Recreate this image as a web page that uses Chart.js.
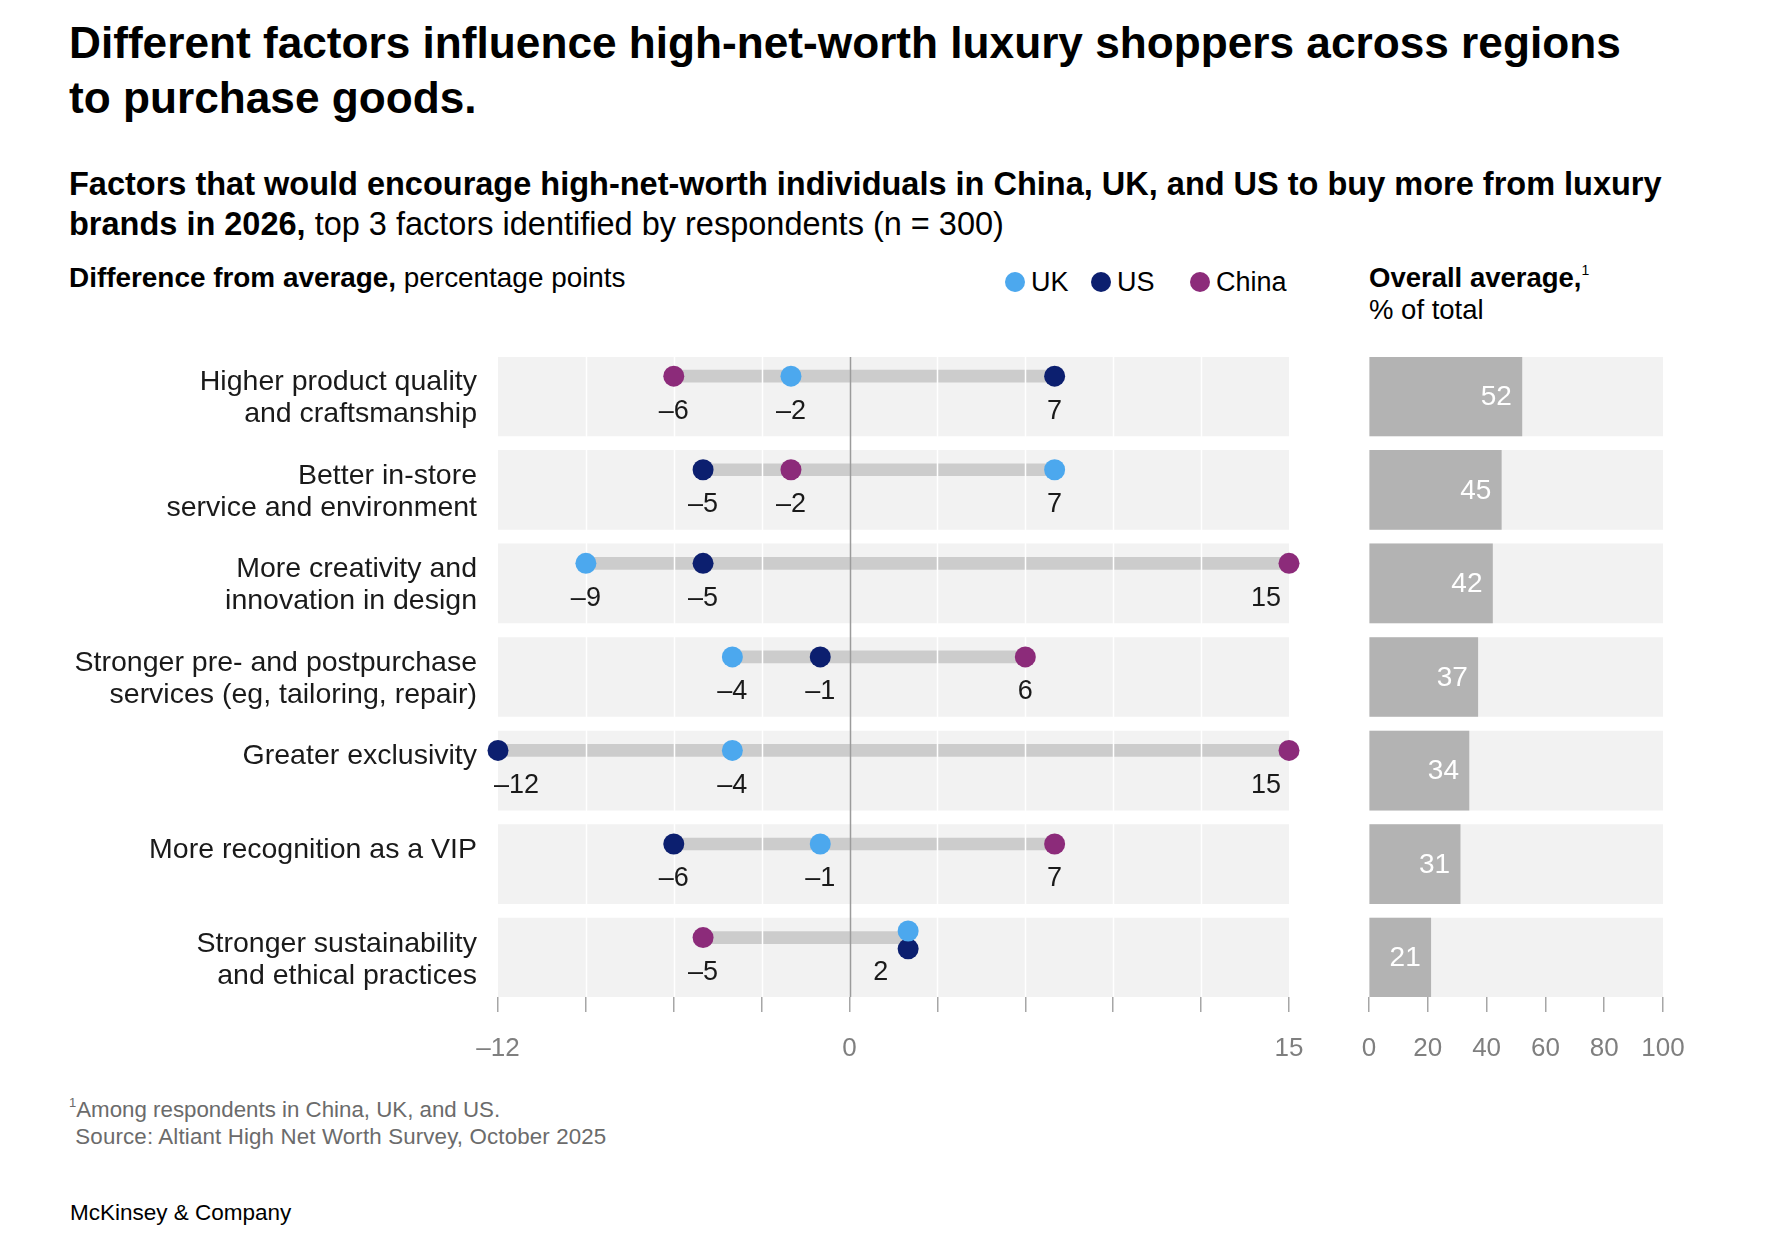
<!DOCTYPE html>
<html>
<head>
<meta charset="utf-8">
<title>Luxury shoppers factors</title>
<script src="https://cdn.jsdelivr.net/npm/chart.js@4.4.1/dist/chart.umd.min.js"></script>
<style>
    body { margin: 0; background: #fff; font-family: "Liberation Sans", Arial, sans-serif; color: #000; }
    #page { position: relative; width: 1792px; height: 1242px; overflow: hidden; }
    .abs { position: absolute; white-space: nowrap; }
    #title { left: 69px; top: 15px; font-size: 44.2px; line-height: 55px; font-weight: 700; }
    #subtitle { left: 69px; top: 164px; font-size: 32.5px; line-height: 40px; }
    #diffHead { left: 69px; top: 263px; font-size: 27.9px; line-height: 30px; }
    #avgHead { left: 1369px; top: 262px; font-size: 27.5px; line-height: 32px; }
    sup { font-size: 14px; line-height: 0; vertical-align: 0; position: relative; top: -12px; font-weight: 400; }
    .legend-item { position: absolute; top: 267px; height: 30px; font-size: 27px; line-height: 30px; }
    .legend-item .dot { position: absolute; left: -26px; top: 5px; width: 20px; height: 20px; border-radius: 50%; }
    #notes { left: 69px; top: 1096px; font-size: 22.3px; line-height: 27px; color: #6b6b6b; }
    #notes .src { letter-spacing: 0.15px; }
    #brand { left: 70px; top: 1200px; font-size: 22.5px; line-height: 26px; color: #000; }
    #dotWrap { position: absolute; left: 0; top: 330px; width: 1320px; height: 740px; }
    #barWrap { position: absolute; left: 1340px; top: 330px; width: 452px; height: 740px; }
</style>
</head>
<body>
<div id="page">
    <div id="title" class="abs">Different factors influence high-net-worth luxury shoppers across regions<br>to purchase goods.</div>
    <div id="subtitle" class="abs"><b>Factors that would encourage high-net-worth individuals in China, UK, and US to buy more from luxury<br>brands in 2026,</b> top 3 factors identified by respondents (n = 300)</div>
    <div id="diffHead" class="abs"><b>Difference from average,</b> percentage points</div>
    <div id="legend"></div>
    <div id="avgHead" class="abs"><b>Overall average,</b><sup>1</sup><br>% of total</div>
    <div id="dotWrap"><canvas id="dot-chart" width="1320" height="740"></canvas></div>
    <div id="barWrap"><canvas id="avg-chart" width="452" height="740"></canvas></div>
    <div id="notes" class="abs"><sup style="font-size:13px;top:-10px">1</sup>Among respondents in China, UK, and US.<br><span class="src">&nbsp;Source: Altiant High Net Worth Survey, October 2025</span></div>
    <div id="brand" class="abs">McKinsey &amp; Company</div>
</div>

<script>
// Chart data
const categories = [
    ['Higher product quality', 'and craftsmanship'],
    ['Better in-store', 'service and environment'],
    ['More creativity and', 'innovation in design'],
    ['Stronger pre- and postpurchase', 'services (eg, tailoring, repair)'],
    ['Greater exclusivity'],
    ['More recognition as a VIP'],
    ['Stronger sustainability', 'and ethical practices']
];
const seriesNames = ['UK', 'US', 'China'];
const ukValues = [-2, 7, -9, -4, -4, -1, 2];
const usValues = [7, -5, -5, -1, -12, -6, 2];
const chinaValues = [-6, -2, 15, 6, 15, 7, -5];
const overallAverage = [52, 45, 42, 37, 34, 31, 21];
const diffTicks = [-12, -9, -6, -3, 0, 3, 6, 9, 12, 15];
const diffTickLabels = ['–12', '', '', '', '0', '', '', '', '', '15'];
const avgTicks = [0, 20, 40, 60, 80, 100];
const avgTickLabels = ['0', '20', '40', '60', '80', '100'];

document.addEventListener('DOMContentLoaded', function() {
    const colors = ['#4ca8ee', '#0c1f6f', '#8c2b7a'];
    const seriesValues = [ukValues, usValues, chinaValues];
    const labelFont = '"Liberation Sans", Arial, sans-serif';

    // Dots sit a bit above the middle of each grey band
    const DOT_SHIFT = 0.215;
    const BAND = 79;
    const rowMin = -0.42, rowMax = 6.42;

    // HTML legend (UK, US, China)
    const legendX = [1031, 1117, 1216];
    const legend = document.getElementById('legend');
    seriesNames.forEach(function(name, k) {
        const item = document.createElement('div');
        item.className = 'legend-item';
        item.style.left = legendX[k] + 'px';
        item.innerHTML = '<span class="dot" style="background:' + colors[k] + '"></span>' + name;
        legend.appendChild(item);
    });

    // Small vertical nudge when two dots share a value on the same row
    function dodge(k, i) {
        if (ukValues[i] === usValues[i]) {
            if (k === 0) return -0.07;
            if (k === 1) return 0.12;
        }
        return 0;
    }

    function rowLabel(value) {
        const lines = categories[value];
        if (!lines) return '';
        return lines.length === 1 ? [lines[0], ''] : lines;
    }

    function fmt(v) {
        return v < 0 ? '–' + Math.abs(v) : String(v);
    }

    // Horizontal axes: no extra room for the end labels
    function noSidePadding(scale) {
        scale.height = 73;
        scale.paddingLeft = 0;
        scale.paddingRight = 0;
    }

    // Grid lines in white over bands and connectors, then the zero line
    const gridPlugin = {
        id: 'bandGrid',
        afterDatasetDraw(chart, args) {
            if (args.meta.label !== 'connectors') return;
            const ctx = chart.ctx;
            const area = chart.chartArea;
            const x = chart.scales.x;
            ctx.save();
            ctx.lineWidth = 1.5;
            ctx.strokeStyle = '#ffffff';
            diffTicks.forEach(function(v) {
                if (v === 0 || v === diffTicks[0] || v === diffTicks[diffTicks.length - 1]) return;
                const px = Math.round(x.getPixelForValue(v)) + 0.5;
                ctx.beginPath();
                ctx.moveTo(px, area.top);
                ctx.lineTo(px, area.bottom);
                ctx.stroke();
            });
            const zx = Math.round(x.getPixelForValue(0)) + 0.5;
            ctx.strokeStyle = '#9b9b9b';
            ctx.beginPath();
            ctx.moveTo(zx, area.top);
            ctx.lineTo(zx, area.bottom);
            ctx.stroke();
            ctx.restore();
        }
    };

    // Value labels under the dots
    const dotLabelPlugin = {
        id: 'dotLabels',
        afterDatasetsDraw(chart) {
            const ctx = chart.ctx;
            const area = chart.chartArea;
            const x = chart.scales.x;
            const y = chart.scales.y;
            ctx.save();
            ctx.font = '27px ' + labelFont;
            ctx.fillStyle = '#1a1a1a';
            ctx.textBaseline = 'middle';
            categories.forEach(function(c, i) {
                const seen = {};
                const counts = {};
                seriesValues.forEach(function(vals) { counts[vals[i]] = (counts[vals[i]] || 0) + 1; });
                seriesValues.forEach(function(vals) {
                    const v = vals[i];
                    if (seen[v]) return;
                    seen[v] = true;
                    const text = fmt(v);
                    const w = ctx.measureText(text).width;
                    let px = x.getPixelForValue(v);
                    const py = y.getPixelForValue(i - DOT_SHIFT) + 35;
                    if (counts[v] > 1) {
                        ctx.textAlign = 'right';
                        px = px - 20;
                    } else if (px - w / 2 < area.left) {
                        ctx.textAlign = 'left';
                        px = area.left - 4;
                    } else if (px + w / 2 > area.right) {
                        ctx.textAlign = 'right';
                        px = area.right - 8;
                    } else {
                        ctx.textAlign = 'center';
                    }
                    ctx.fillText(text, px, py);
                });
            });
            ctx.restore();
        }
    };

    // Dumbbell chart: bands, connectors, dots
    const dotDatasets = seriesNames.map(function(name, k) {
        return {
            type: 'scatter',
            label: name,
            data: seriesValues[k].map(function(v, i) { return { x: v, y: i - DOT_SHIFT + dodge(k, i) }; }),
            backgroundColor: colors[k],
            borderWidth: 0,
            pointRadius: 10.5,
            pointHoverRadius: 10.5,
            clip: false,
            order: 0
        };
    });

    const dotChart = new Chart(document.getElementById('dot-chart'), {
        type: 'bar',
        data: {
            datasets: [{
                label: 'bands',
                data: categories.map(function(c, i) { return { x: [diffTicks[0], diffTicks[diffTicks.length - 1]], y: i }; }),
                backgroundColor: '#f2f2f2',
                barThickness: BAND,
                grouped: false,
                order: 5
            }, {
                label: 'connectors',
                data: categories.map(function(c, i) {
                    const vals = seriesValues.map(function(s) { return s[i]; });
                    return { x: [Math.min.apply(null, vals), Math.max.apply(null, vals)], y: i - DOT_SHIFT };
                }),
                backgroundColor: '#cccccc',
                barThickness: 12,
                grouped: false,
                order: 4
            }].concat(dotDatasets)
        },
        options: {
            indexAxis: 'y',
            responsive: false,
            animation: false,
            events: [],
            layout: { padding: { top: 27, right: 31, left: 0, bottom: 0 } },
            plugins: { legend: { display: false }, tooltip: { enabled: false } },
            scales: {
                x: {
                    type: 'linear',
                    offset: false,
                    min: diffTicks[0],
                    max: diffTicks[diffTicks.length - 1],
                    afterBuildTicks: function(scale) {
                        scale.ticks = diffTicks.map(function(v) { return { value: v }; });
                    },
                    afterFit: noSidePadding,
                    grid: { offset: false, drawOnChartArea: false, drawTicks: true, tickLength: 15, color: '#a6a6a6', lineWidth: 1.5 },
                    border: { display: false },
                    ticks: {
                        autoSkip: false,
                        maxRotation: 0,
                        padding: 21,
                        color: '#7f7f7f',
                        font: { family: labelFont, size: 26 },
                        callback: function(value) { return diffTickLabels[diffTicks.indexOf(value)]; }
                    }
                },
                y: {
                    type: 'linear',
                    reverse: true,
                    offset: false,
                    min: rowMin,
                    max: rowMax,
                    afterBuildTicks: function(scale) {
                        scale.ticks = categories.map(function(c, i) { return { value: i }; });
                    },
                    afterFit: function(scale) {
                        scale.width = 498;
                        scale.paddingTop = 0;
                        scale.paddingBottom = 0;
                    },
                    grid: { display: false, offset: false },
                    border: { display: false },
                    ticks: {
                        autoSkip: false,
                        padding: 13,
                        labelOffset: 2,
                        color: '#1a1a1a',
                        font: { family: labelFont, size: 28.5, lineHeight: 1.12 },
                        callback: rowLabel
                    }
                }
            }
        },
        plugins: [gridPlugin, dotLabelPlugin]
    });

    // Overall average bars, value printed inside the bar end
    const avgLabelPlugin = {
        id: 'avgLabels',
        afterDatasetsDraw(chart) {
            const ctx = chart.ctx;
            const meta = chart.getDatasetMeta(1);
            ctx.save();
            ctx.font = '28px ' + labelFont;
            ctx.fillStyle = '#ffffff';
            ctx.textAlign = 'right';
            ctx.textBaseline = 'middle';
            meta.data.forEach(function(bar, i) {
                ctx.fillText(String(overallAverage[i]), bar.x - 10, bar.y + 1);
            });
            ctx.restore();
        }
    };

    const avgChart = new Chart(document.getElementById('avg-chart'), {
        type: 'bar',
        data: {
            datasets: [{
                label: 'track',
                data: categories.map(function(c, i) { return { x: [avgTicks[0], avgTicks[avgTicks.length - 1]], y: i }; }),
                backgroundColor: '#f2f2f2',
                barThickness: BAND,
                grouped: false,
                order: 2
            }, {
                label: 'Overall average',
                data: overallAverage.map(function(v, i) { return { x: v, y: i }; }),
                backgroundColor: '#b3b3b3',
                barThickness: BAND,
                grouped: false,
                order: 1
            }]
        },
        options: {
            indexAxis: 'y',
            responsive: false,
            animation: false,
            events: [],
            layout: { padding: { top: 27, right: 129, left: 29, bottom: 0 } },
            plugins: { legend: { display: false }, tooltip: { enabled: false } },
            scales: {
                x: {
                    type: 'linear',
                    offset: false,
                    min: avgTicks[0],
                    max: avgTicks[avgTicks.length - 1],
                    afterBuildTicks: function(scale) {
                        scale.ticks = avgTicks.map(function(v) { return { value: v }; });
                    },
                    afterFit: noSidePadding,
                    grid: { offset: false, drawOnChartArea: false, drawTicks: true, tickLength: 15, color: '#a6a6a6', lineWidth: 1.5 },
                    border: { display: false },
                    ticks: {
                        autoSkip: false,
                        maxRotation: 0,
                        padding: 21,
                        color: '#7f7f7f',
                        font: { family: labelFont, size: 26 },
                        callback: function(value) { return avgTickLabels[avgTicks.indexOf(value)]; }
                    }
                },
                y: {
                    type: 'linear',
                    reverse: true,
                    offset: false,
                    display: false,
                    min: rowMin,
                    max: rowMax
                }
            }
        },
        plugins: [avgLabelPlugin]
    });
});
</script>
</body>
</html>
